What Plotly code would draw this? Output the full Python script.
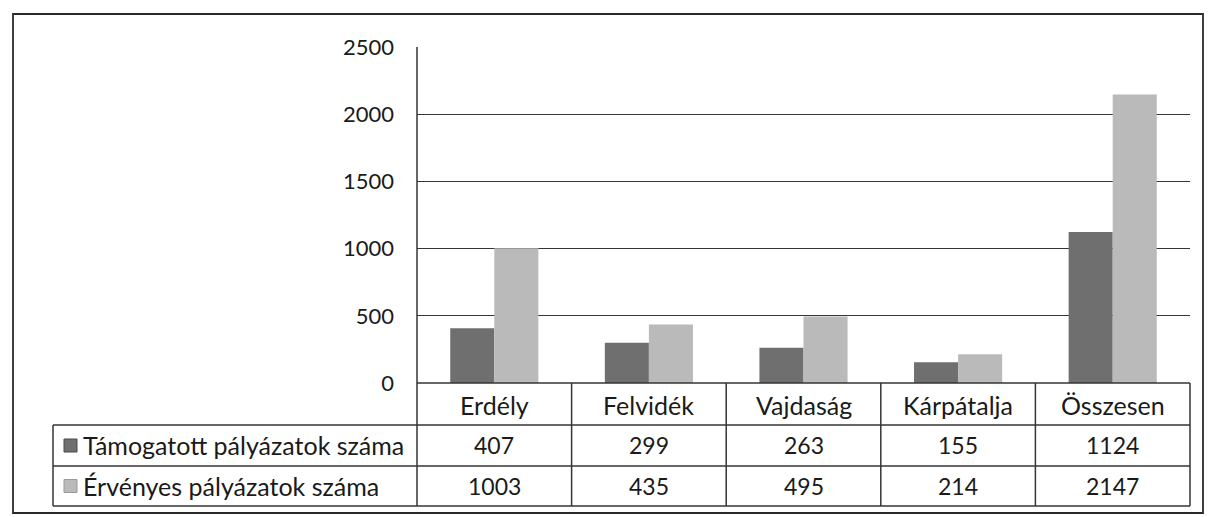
import plotly.graph_objects as go

categories = ["Erdély", "Felvidék", "Vajdaság", "Kárpátalja", "Összesen"]
series_names = ["Támogatott pályázatok száma", "Érvényes pályázatok száma"]
tamogatott = [407, 299, 263, 155, 1124]
ervenyes = [1003, 435, 495, 214, 2147]
y_ticks = [0, 500, 1000, 1500, 2000, 2500]

OFF = 8  # default page body margin
W, H = 1212 - OFF, 517 - OFF
# target-page pixel geometry
P_LEFT, P_RIGHT, P_TOP, P_ZERO = 417, 1190, 47, 383
L, T = P_LEFT - OFF, P_TOP - OFF
R = W - (P_RIGHT - OFF)
B = H - (P_ZERO - OFF)
PW, PH = W - L - R, H - T - B

def px(x):
    return (x - P_LEFT) / PW

def py(y):
    return (P_ZERO - y) / PH

FONT = "Lato, 'Open Sans', sans-serif"
TXT = "#1a1a1a"
LINE = "#353535"
colors = ["#6f6f6f", "#bababa"]
border_colors = ["#4a4a4a", "#9a9a9a"]

fig = go.Figure()
for name, vals, col in zip(series_names, [tamogatott, ervenyes], colors):
    fig.add_trace(go.Bar(x=categories, y=vals, name=name, marker=dict(color=col, line=dict(width=0))))

shapes = []
row_y = [P_ZERO, 425, 466, 506]
legend_left = 53
n = len(categories)
shapes.append(dict(type="line", xref="paper", yref="paper", x0=0, x1=1, y0=py(row_y[0]), y1=py(row_y[0]),
                   line=dict(color=LINE, width=1.5)))
for yy in row_y[1:]:
    shapes.append(dict(type="line", xref="paper", yref="paper", x0=px(legend_left), x1=1, y0=py(yy), y1=py(yy),
                       line=dict(color=LINE, width=1.5)))
shapes.append(dict(type="line", xref="paper", yref="paper", x0=0, x1=0, y0=1, y1=py(row_y[-1]),
                   line=dict(color=LINE, width=1.5)))
for i in range(1, n + 1):
    shapes.append(dict(type="line", xref="paper", yref="paper", x0=i / n, x1=i / n, y0=py(row_y[0]), y1=py(row_y[-1]),
                       line=dict(color=LINE, width=1.5)))
shapes.append(dict(type="line", xref="paper", yref="paper", x0=px(legend_left), x1=px(legend_left),
                   y0=py(row_y[1]), y1=py(row_y[-1]), line=dict(color=LINE, width=1.5)))
shapes.append(dict(type="rect", xref="paper", yref="paper", x0=px(13), x1=px(1203), y0=py(513), y1=py(14),
                   line=dict(color="#2a2a2a", width=1.8)))

annotations = []
hdr_c = (row_y[0] + row_y[1]) / 2 + 1
for c in categories:
    annotations.append(dict(x=c, xref="x", y=py(hdr_c), yref="paper", text=c, showarrow=False,
                            font=dict(family=FONT, size=25, color=TXT), xanchor="center", yanchor="middle"))
for r, (name, vals, col, bc) in enumerate(zip(series_names, [tamogatott, ervenyes], colors, border_colors)):
    yc = (row_y[r + 1] + row_y[r + 2]) / 2
    for c, v in zip(categories, vals):
        annotations.append(dict(x=c, xref="x", y=py(yc), yref="paper", text=str(v), showarrow=False,
                                font=dict(family=FONT, size=23, color=TXT), xanchor="center", yanchor="middle"))
    annotations.append(dict(x=px(81), xref="paper", y=py(yc), yref="paper", text=name, showarrow=False,
                            font=dict(family=FONT, size=25, color=TXT), xanchor="left", yanchor="middle"))
    shapes.append(dict(type="rect", xref="paper", yref="paper", x0=px(64), x1=px(77), y0=py(yc + 6.5), y1=py(yc - 6.5),
                       fillcolor=col, line=dict(color=bc, width=1)))

fig.update_layout(
    width=W, height=H,
    margin=dict(l=L, r=R, t=T, b=B, pad=0),
    paper_bgcolor="white", plot_bgcolor="white",
    barmode="group", bargap=0.43, bargroupgap=0,
    showlegend=False,
    xaxis=dict(type="category", showticklabels=False, showgrid=False, showline=False, zeroline=False,
               range=[-0.5, n - 0.5]),
    yaxis=dict(range=[0, 2500], tickvals=y_ticks, ticktext=[str(t) for t in y_ticks], showgrid=True,
               gridcolor=LINE, gridwidth=1.3, zeroline=False, showline=False, ticks="",
               ticklabelstandoff=22, tickfont=dict(family=FONT, size=22, color=TXT)),
    shapes=shapes, annotations=annotations,
)
fig.write_html("out.html")
